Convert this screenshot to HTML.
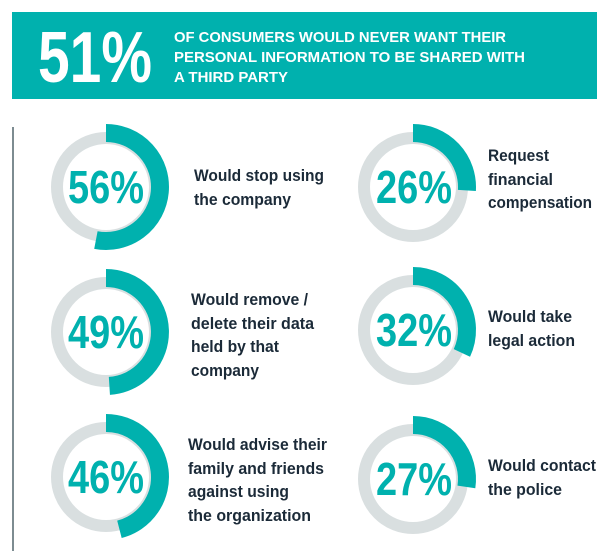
<!DOCTYPE html>
<html><head><meta charset="utf-8"><style>
html,body{margin:0;padding:0;background:#fff;width:611px;height:551px;overflow:hidden}
svg{display:block}
text{font-family:"Liberation Sans",sans-serif;font-weight:bold}
</style></head><body>
<svg width="611" height="551" viewBox="0 0 611 551" xmlns="http://www.w3.org/2000/svg">
<rect x="12" y="12" width="585" height="87" fill="#00b1ae"/>
<text x="38" y="82" font-size="72" fill="#fff" textLength="114" lengthAdjust="spacingAndGlyphs">51%</text>
<g fill="#fff" font-size="15">
<text x="174" y="42" textLength="332" lengthAdjust="spacingAndGlyphs">OF CONSUMERS WOULD NEVER WANT THEIR</text>
<text x="174" y="62" textLength="351" lengthAdjust="spacingAndGlyphs">PERSONAL INFORMATION TO BE SHARED WITH</text>
<text x="174" y="82" textLength="114" lengthAdjust="spacingAndGlyphs">A THIRD PARTY</text>
</g>
<rect x="12" y="127" width="2" height="424" fill="#7d8c91"/>

<g transform="translate(106,187)"><circle r="49" fill="none" stroke="#d9dfe0" stroke-width="12"/><path d="M0,-54 A54,54 0 1 1 -10.1,53.05" fill="none" stroke="#00b1ae" stroke-width="18"/></g>
<g transform="translate(106,332)"><circle r="49" fill="none" stroke="#d9dfe0" stroke-width="12"/><path d="M0,-54 A54,54 0 0 1 3.39,53.89" fill="none" stroke="#00b1ae" stroke-width="18"/></g>
<g transform="translate(106,477)"><circle r="49" fill="none" stroke="#d9dfe0" stroke-width="12"/><path d="M0,-54 A54,54 0 0 1 13.43,52.3" fill="none" stroke="#00b1ae" stroke-width="18"/></g>
<g transform="translate(413,187)"><circle r="49" fill="none" stroke="#d9dfe0" stroke-width="12"/><path d="M0,-54 A54,54 0 0 1 53.89,3.39" fill="none" stroke="#00b1ae" stroke-width="18"/></g>
<g transform="translate(413,330)"><circle r="49" fill="none" stroke="#d9dfe0" stroke-width="12"/><path d="M0,-54 A54,54 0 0 1 48.9,22.9" fill="none" stroke="#00b1ae" stroke-width="18"/></g>
<g transform="translate(413,479)"><circle r="49" fill="none" stroke="#d9dfe0" stroke-width="12"/><path d="M0,-54 A54,54 0 0 1 53.4,7.9" fill="none" stroke="#00b1ae" stroke-width="18"/></g>

<g fill="#00b1ae" font-size="46">
<text x="68" y="203" textLength="76" lengthAdjust="spacingAndGlyphs">56%</text>
<text x="68" y="348" textLength="76" lengthAdjust="spacingAndGlyphs">49%</text>
<text x="68" y="493" textLength="76" lengthAdjust="spacingAndGlyphs">46%</text>
<text x="376" y="203" textLength="76" lengthAdjust="spacingAndGlyphs">26%</text>
<text x="376" y="346" textLength="76" lengthAdjust="spacingAndGlyphs">32%</text>
<text x="376" y="495" textLength="76" lengthAdjust="spacingAndGlyphs">27%</text>
</g>

<g fill="#1b2a38" font-size="17">
<text x="194" y="181" textLength="130" lengthAdjust="spacingAndGlyphs">Would stop using</text>
<text x="194" y="205" textLength="97" lengthAdjust="spacingAndGlyphs">the company</text>
<text x="488" y="161" textLength="61" lengthAdjust="spacingAndGlyphs">Request</text>
<text x="488" y="185" textLength="65" lengthAdjust="spacingAndGlyphs">financial</text>
<text x="488" y="208" textLength="104" lengthAdjust="spacingAndGlyphs">compensation</text>
<text x="191" y="305" textLength="117" lengthAdjust="spacingAndGlyphs">Would remove /</text>
<text x="191" y="329" textLength="123" lengthAdjust="spacingAndGlyphs">delete their data</text>
<text x="191" y="352" textLength="88" lengthAdjust="spacingAndGlyphs">held by that</text>
<text x="191" y="376" textLength="68" lengthAdjust="spacingAndGlyphs">company</text>
<text x="488" y="322" textLength="84" lengthAdjust="spacingAndGlyphs">Would take</text>
<text x="488" y="346" textLength="87" lengthAdjust="spacingAndGlyphs">legal action</text>
<text x="188" y="450" textLength="139" lengthAdjust="spacingAndGlyphs">Would advise their</text>
<text x="188" y="474" textLength="136" lengthAdjust="spacingAndGlyphs">family and friends</text>
<text x="188" y="497" textLength="101" lengthAdjust="spacingAndGlyphs">against using</text>
<text x="188" y="521" textLength="123" lengthAdjust="spacingAndGlyphs">the organization</text>
<text x="488" y="471" textLength="108" lengthAdjust="spacingAndGlyphs">Would contact</text>
<text x="488" y="495" textLength="74" lengthAdjust="spacingAndGlyphs">the police</text>
</g>
</svg>
</body></html>
